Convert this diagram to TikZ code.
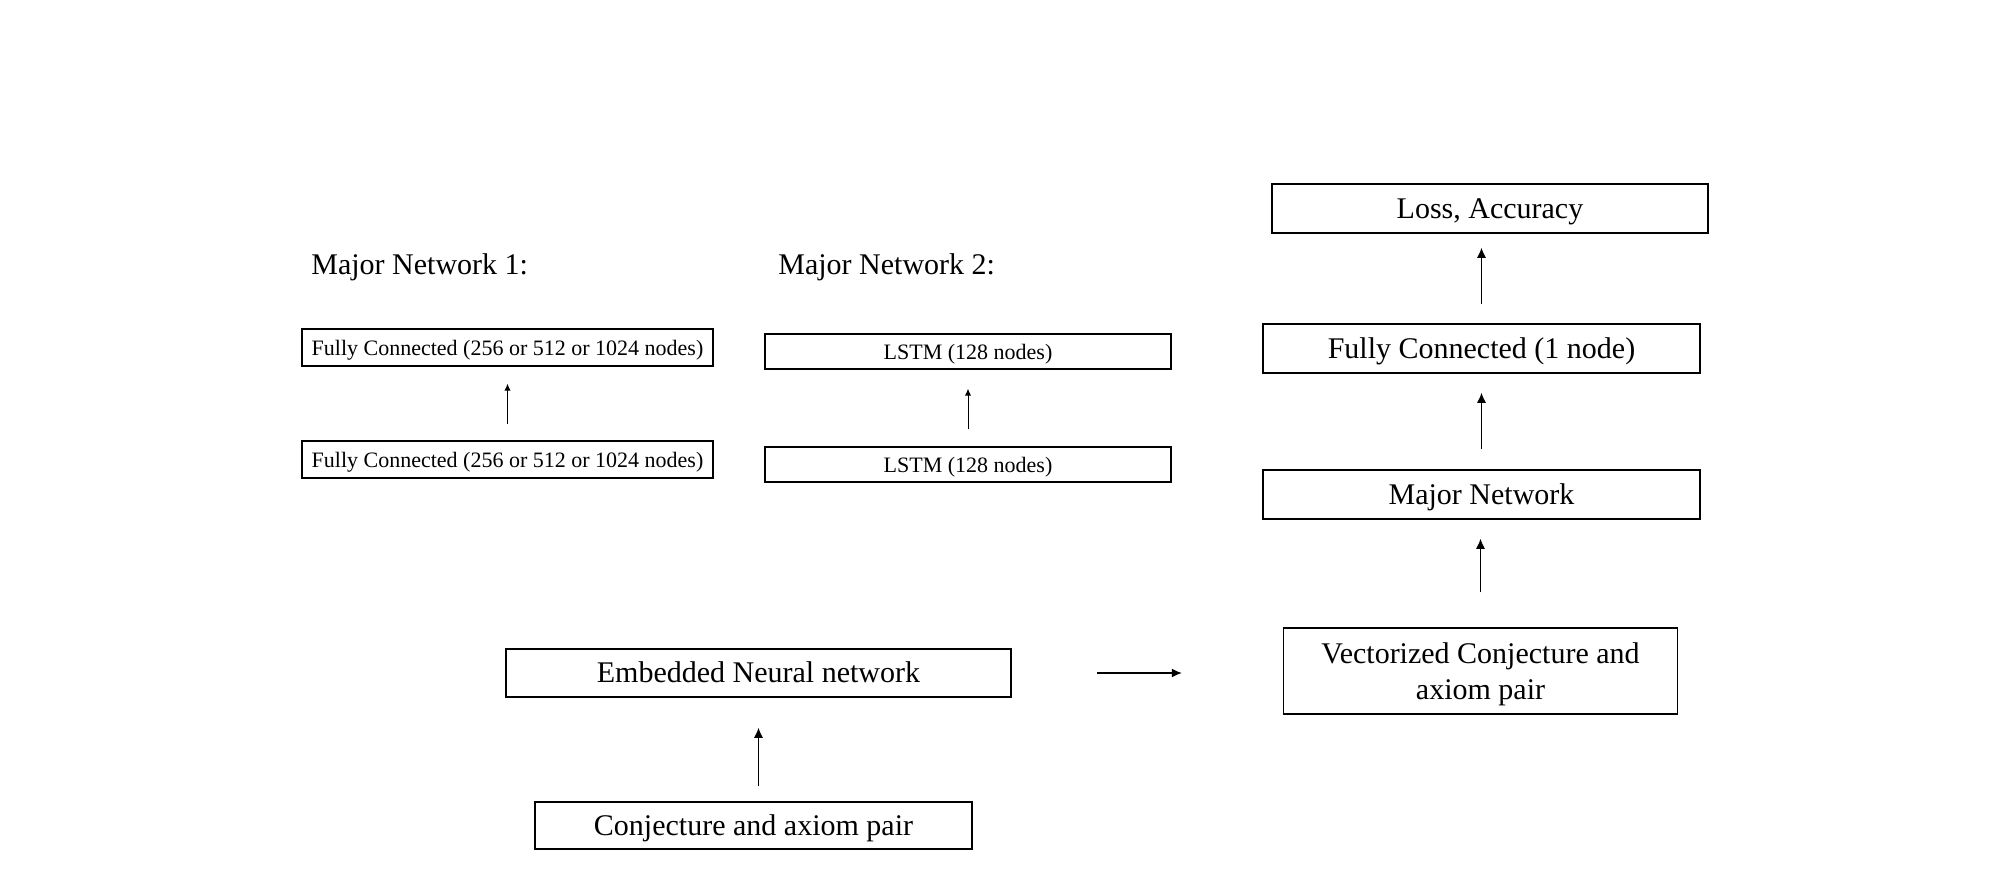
\documentclass[tikz,border=0pt]{standalone}
\usepackage{fontspec}
\setmainfont{Liberation Serif}
\usetikzlibrary{arrows.meta}
\tikzset{
  bigbox/.style={draw, line width=0.75pt, inner sep=0pt, anchor=center,
    font=\fontsize{15}{18}\selectfont, text height=0.95em, text depth=0pt},
  smallbox/.style={draw, line width=0.7pt, inner sep=0pt, anchor=center,
    font=\fontsize{11}{13.2}\selectfont, text height=0.82em, text depth=0pt},
  twolinebox/.style={draw, line width=0.75pt, inner sep=0pt, anchor=center,
    align=center, font=\fontsize{15}{18}\selectfont, text depth=0pt},
  heading/.style={inner sep=0pt, anchor=base west, font=\fontsize{15}{18}\selectfont},
  bigarr/.style={-{Latex[length=5pt,width=4.5pt]}, line width=0.6pt},
  smallarr/.style={-{Latex[length=3.5pt,width=3.2pt]}, line width=0.5pt}
}
\begin{document}
\begin{tikzpicture}[x=0.5pt, y=-0.5pt]
\useasboundingbox (0,0) rectangle (2010,895);
% right column
\node[bigbox, minimum width=218pt, minimum height=24.5pt] (loss) at (1490,208.5) {Loss, Accuracy};
\node[bigbox, minimum width=218.5pt, minimum height=24.5pt] (fcone) at (1481.5,348.5) {Fully Connected (1 node)};
\node[bigbox, minimum width=218.5pt, minimum height=24.5pt] (mnet) at (1481.5,494.5) {Major Network};
\node[twolinebox, minimum width=197pt, minimum height=43pt] (vec) at (1480.5,671) {Vectorized Conjecture and\\axiom pair};
% bottom
\node[bigbox, minimum width=252.5pt, minimum height=24pt] (emb) at (758.5,673) {Embedded Neural network};
\node[bigbox, minimum width=218.5pt, minimum height=23.5pt] (conj) at (753.5,825.5) {Conjecture and axiom pair};
% major network 1
\node[heading] (mnone) at (311,274) {Major Network 1:};
\node[smallbox, minimum width=205.5pt, minimum height=18.5pt] (fca) at (507.5,347.5) {Fully Connected (256 or 512 or 1024 nodes)};
\node[smallbox, minimum width=205.5pt, minimum height=18.5pt] (fcb) at (507.5,459.5) {Fully Connected (256 or 512 or 1024 nodes)};
% major network 2
\node[heading] (mntwo) at (778,274) {Major Network 2:};
\node[smallbox, minimum width=203pt, minimum height=17.5pt] (lsa) at (968,351.5) {LSTM (128 nodes)};
\node[smallbox, minimum width=203pt, minimum height=17.5pt] (lsb) at (968,464.5) {LSTM (128 nodes)};
% arrows
\draw[bigarr, shorten <=9.5pt, shorten >=7pt] (fcone.north) -- (fcone.north |- loss.south);
\draw[bigarr, shorten <=10pt, shorten >=9.5pt] (mnet.north) -- (fcone.south);
\draw[bigarr, shorten <=17.5pt, shorten >=9.5pt] (vec.north) -- (vec.north |- mnet.south);
\draw[bigarr, shorten <=42.5pt, shorten >=50.5pt] (emb.east) -- (emb.east -| vec.west);
\draw[bigarr, shorten <=7.5pt, shorten >=15pt] (conj.north -| emb.south) -- (emb.south);
\draw[smallarr, shorten <=8pt, shorten >=8.5pt] (fcb.north) -- (fca.south);
\draw[smallarr, shorten <=8.5pt, shorten >=9.5pt] (lsb.north) -- (lsa.south);
\end{tikzpicture}
\end{document}
